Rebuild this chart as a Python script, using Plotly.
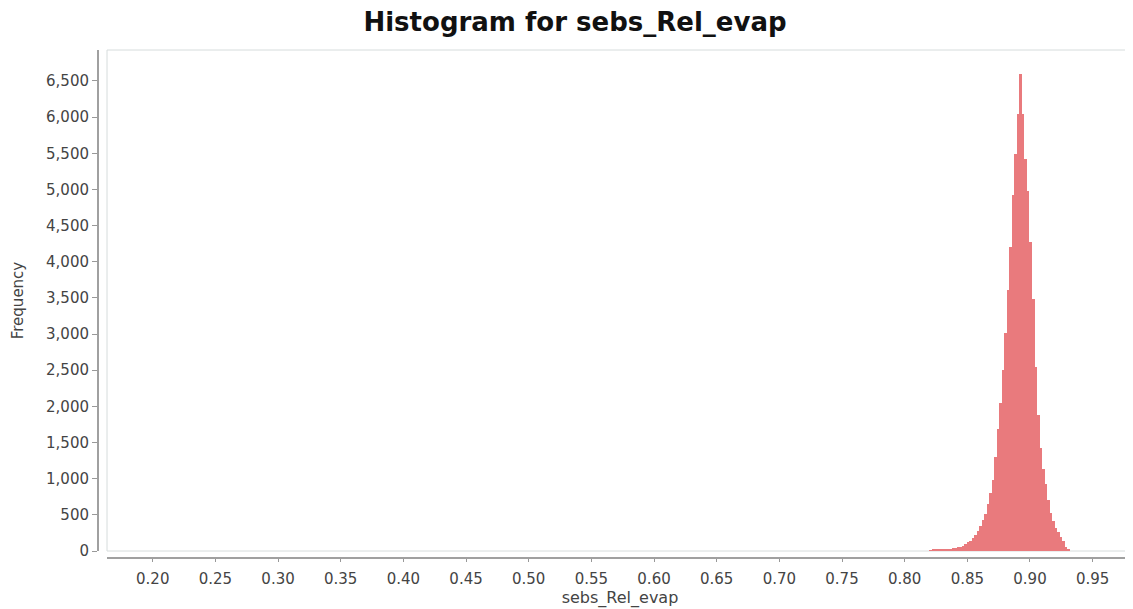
import plotly.graph_objects as go

# Histogram bins
BIN_START = 0.8196      # left edge of first bin
BIN_WIDTH = 0.002
COUNTS = [11, 16, 19, 21, 24, 25, 28, 30, 34, 37,
          42, 50, 58, 75, 95, 120, 145, 175, 225, 280,
          345, 430, 515, 650, 800, 980, 1300, 1690, 2040, 2500,
          3020, 3610, 4200, 4920, 5490, 6040, 6600, 6040, 5420, 4980,
          4270, 3480, 2540, 1880, 1420, 1130, 920, 710, 530, 410,
          320, 260, 200, 140, 60, 20]

X_TICKS = [0.20, 0.25, 0.30, 0.35, 0.40, 0.45, 0.50, 0.55, 0.60, 0.65,
           0.70, 0.75, 0.80, 0.85, 0.90, 0.95]
Y_TICKS = [0, 500, 1000, 1500, 2000, 2500, 3000, 3500, 4000, 4500,
           5000, 5500, 6000, 6500]

centers = [BIN_START + BIN_WIDTH * (i + 0.5) for i in range(len(COUNTS))]

FONT = "DejaVu Sans"

fig = go.Figure()
fig.add_trace(go.Bar(
    x=centers, y=COUNTS, width=BIN_WIDTH,
    marker=dict(color="#e97a7d", line=dict(width=0)),
    showlegend=False,
))

# page body has an 8px default margin -> compensate
W, H = 1125, 601
ml, mr, mt, mb = 90, 0, 42, 51
pw = W - ml - mr
ph = H - mt - mb

fig.update_layout(
    width=W, height=H,
    margin=dict(l=ml, r=mr, t=mt, b=mb, pad=0),
    paper_bgcolor="white", plot_bgcolor="white",
    bargap=0,
    title=dict(text="<b>Histogram for sebs_Rel_evap</b>", x=567 / W, xanchor="center",
               y=1 - 14 / H, yanchor="middle",
               font=dict(family=FONT, size=26, color="#111")),
    xaxis=dict(
        domain=[9 / pw, 1], anchor="free", position=0,
        range=[0.1635, 0.9822],
        tickvals=X_TICKS, ticktext=[f"{v:.2f}" for v in X_TICKS],
        ticks="outside", ticklen=3, tickcolor="#999", tickwidth=1,
        ticklabelstandoff=4,
        showline=True, linecolor="#a0a0a0", linewidth=2,
        showgrid=False, zeroline=False,
        tickfont=dict(family=FONT, size=15, color="#444"),
        title=dict(text="sebs_Rel_evap", font=dict(family=FONT, size=16, color="#444"),
                   standoff=2),
    ),
    yaxis=dict(
        domain=[7 / ph, 1], anchor="free", position=0,
        range=[0, 6928],
        tickvals=Y_TICKS, tickformat=",",
        ticks="outside", ticklen=5, tickcolor="#999", tickwidth=1,
        showline=True, linecolor="#a0a0a0", linewidth=2,
        showgrid=False, zeroline=False,
        tickfont=dict(family=FONT, size=15, color="#444"),
        title=dict(text="Frequency", font=dict(family=FONT, size=15, color="#444"),
                   standoff=18),
    ),
)

fig.add_shape(type="rect", xref="x domain", yref="y domain",
              x0=0, x1=1, y0=0, y1=1,
              line=dict(color="#d6dcdc", width=1), fillcolor="rgba(0,0,0,0)",
              layer="below")

fig.write_html("out.html")
